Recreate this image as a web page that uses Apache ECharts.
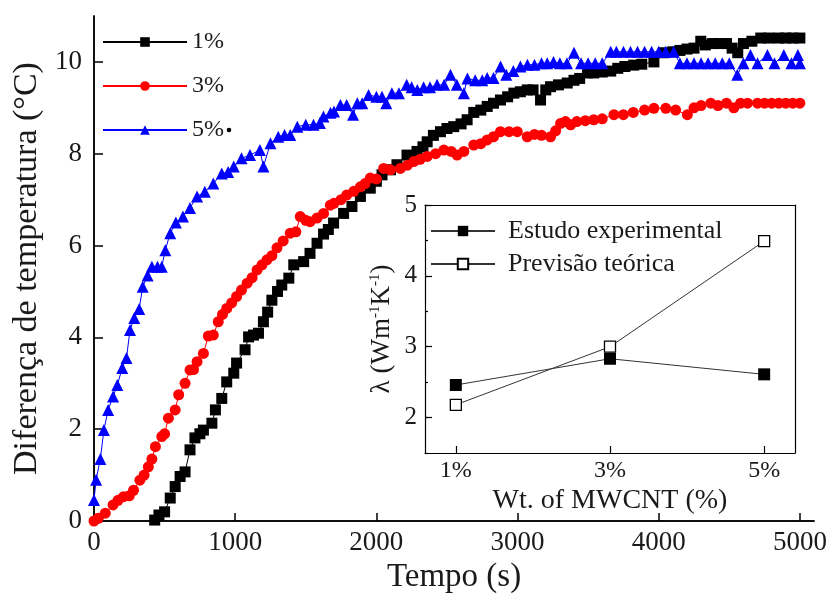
<!DOCTYPE html>
<html><head><meta charset="utf-8">
<script src="https://cdn.jsdelivr.net/npm/echarts@6/dist/echarts.min.js"></script>
<style>html,body{margin:0;padding:0;background:#fff}#c{width:832px;height:603px}</style>
</head><body><div id="c"></div>
<script>
// ---- Main chart data (Tempo in s, Diferença de temperatura in °C) ----
var t1 = [430,460,500,540,575,610,645,680,715,750,775,835,860,905,940,990,1010,1070,1095,1130,1165,1200,1230,1260,1300,1330,1380,1415,1485,1530,1580,1626,1660,1697,1768,1827,1887,1957,2000,2040,2100,2146,2217,2288,2330,2360,2404,2454,2500,2548,2600,2643,2690,2740,2785,2830,2879,2930,2974,3020,3069,3110,3163,3200,3234,3290,3352,3400,3440,3496,3540,3600,3660,3710,3760,3823,3880,3966,4035,4100,4150,4200,4250,4298,4330,4380,4430,4480,4520,4560,4600,4660,4723,4780,4850,4900,4950,5000];
var y1 = [0.02,0.13,0.2,0.5,0.75,0.97,1.07,1.55,1.81,1.9,1.98,2.13,2.42,2.67,3.03,3.22,3.44,3.73,4.01,4.05,4.09,4.34,4.55,4.81,5.0,5.14,5.29,5.58,5.65,5.83,6.05,6.25,6.35,6.49,6.7,6.85,7.07,7.25,7.4,7.54,7.65,7.76,7.97,8.05,8.15,8.26,8.4,8.48,8.55,8.59,8.65,8.74,8.9,8.95,9.03,9.1,9.17,9.24,9.32,9.35,9.39,9.39,9.17,9.39,9.46,9.5,9.54,9.6,9.64,9.76,9.76,9.78,9.8,9.86,9.9,9.93,9.95,10.0,10.2,10.22,10.25,10.28,10.3,10.45,10.37,10.4,10.4,10.4,10.3,10.2,10.4,10.45,10.52,10.52,10.52,10.52,10.52,10.52];

var t3 = [0,30,80,135,170,210,250,280,325,355,385,410,435,480,500,527,575,600,645,680,705,730,775,810,845,880,910,940,975,1010,1045,1085,1120,1155,1190,1225,1260,1296,1340,1390,1430,1461,1500,1530,1580,1626,1674,1700,1750,1790,1840,1887,1920,1957,2000,2052,2100,2170,2220,2265,2310,2360,2420,2478,2530,2572,2620,2690,2740,2785,2830,2879,2940,2998,3069,3120,3170,3234,3270,3305,3340,3376,3420,3480,3540,3600,3683,3750,3820,3900,3966,4050,4120,4203,4250,4300,4369,4420,4480,4532,4580,4629,4700,4750,4800,4850,4900,4950,5000];
var y3 = [0.0,0.06,0.17,0.35,0.45,0.53,0.55,0.67,0.89,1.0,1.18,1.35,1.62,1.84,1.9,2.24,2.42,2.75,3.0,3.29,3.3,3.47,3.65,4.03,4.05,4.34,4.5,4.63,4.75,4.89,5.03,5.18,5.3,5.47,5.58,5.69,5.78,5.95,6.1,6.27,6.3,6.63,6.55,6.52,6.6,6.7,6.88,6.92,7.0,7.1,7.18,7.28,7.35,7.47,7.45,7.68,7.65,7.68,7.75,7.83,7.88,7.94,8.0,8.08,8.05,7.97,8.05,8.19,8.22,8.3,8.37,8.48,8.48,8.48,8.37,8.42,8.4,8.37,8.5,8.66,8.7,8.63,8.7,8.72,8.74,8.76,8.85,8.85,8.9,8.95,8.99,8.99,8.95,8.85,9.0,9.05,9.1,9.05,9.1,9.0,9.1,9.1,9.1,9.1,9.1,9.1,9.1,9.1,9.1];

var t5 = [0,15,45,70,100,135,165,200,230,255,285,320,345,380,410,450,480,505,540,580,630,680,730,785,845,905,950,990,1045,1105,1175,1200,1250,1305,1350,1390,1440,1500,1555,1600,1625,1675,1700,1745,1790,1835,1865,1900,1945,2000,2040,2070,2110,2160,2215,2250,2290,2335,2380,2430,2480,2525,2570,2620,2645,2700,2750,2785,2830,2880,2920,2970,3020,3070,3120,3170,3210,3255,3300,3350,3400,3450,3500,3550,3600,3660,3700,3750,3800,3850,3900,3950,4000,4050,4106,4150,4200,4250,4300,4350,4400,4450,4500,4557,4600,4650,4700,4770,4820,4886,4940,4986,5000];
var y5 = [0.46,0.9,1.35,1.98,2.42,2.71,2.96,3.33,3.55,4.16,4.42,4.62,5.1,5.35,5.54,5.54,5.54,5.9,6.27,6.5,6.63,6.82,7.07,7.17,7.35,7.57,7.6,7.72,7.9,7.97,8.08,7.72,8.23,8.37,8.41,8.41,8.59,8.63,8.63,8.67,8.81,8.89,8.92,9.06,9.06,8.85,9.1,9.1,9.28,9.24,9.24,9.1,9.32,9.32,9.5,9.45,9.39,9.45,9.45,9.5,9.5,9.72,9.5,9.32,9.64,9.6,9.6,9.65,9.65,9.9,9.72,9.8,9.9,9.94,9.94,9.97,9.97,10.0,9.97,9.97,10.2,9.97,9.97,9.97,9.97,10.22,10.22,10.22,10.22,10.22,10.22,10.22,10.22,10.22,10.22,9.97,9.97,9.97,9.97,9.97,9.97,9.97,9.97,9.72,9.97,10.15,9.97,10.15,9.97,10.15,9.97,10.15,9.97];

var seriesNames = ['1%', '3%', '5%'];

// ---- Inset data (λ, W m-1 K-1) ----
var insetWt = [1, 3, 5];
var insetWtLabels = ['1%', '3%', '5%'];
var experimental = [2.46, 2.83, 2.61];
var theoretical = [2.18, 3.0, 4.49];
var insetNames = ['Estudo experimental', 'Previsão teórica'];

function pairs(xs, ys) {
  var out = [];
  for (var i = 0; i < Math.min(xs.length, ys.length); i++) out.push([xs[i], ys[i]]);
  return out;
}

var FONT = 'Liberation Serif';
var TXT = '#1a1a1a';

var chart = echarts.init(document.getElementById('c'), null, {renderer: 'canvas'});

var option = {
  backgroundColor: '#fff',
  animation: false,
  textStyle: {fontFamily: FONT, color: TXT},
  grid: [
    {left: 94, right: 18, top: 16, bottom: 82},
    {left: 425, top: 205, width: 370, height: 248}
  ],
  legend: [
    {
      data: seriesNames,
      orient: 'vertical', left: 97, top: 25,
      itemWidth: 84, itemHeight: 12, itemGap: 20,
      textStyle: {fontFamily: FONT, fontSize: 24, color: TXT, padding: [0, 0, 0, 0]}
    },
    {
      data: insetNames,
      orient: 'vertical', left: 425, top: 213,
      itemWidth: 64, itemHeight: 13, itemGap: 7,
      textStyle: {fontFamily: FONT, fontSize: 26, color: TXT, padding: [0, 0, 0, 8]}
    }
  ],
  xAxis: [
    {
      gridIndex: 0, type: 'value', min: 0, max: 5100, interval: 1000,
      name: 'Tempo (s)', nameLocation: 'middle', nameGap: 40,
      nameTextStyle: {fontFamily: FONT, fontSize: 33, color: TXT},
      axisLine: {lineStyle: {color: '#000', width: 1.5}},
      axisTick: {inside: true, length: 8, lineStyle: {color: '#000', width: 1.5}},
      axisLabel: {fontFamily: FONT, fontSize: 27, color: TXT, margin: 8, showMaxLabel: false,
        formatter: function (v) { return String(v); }},
      splitLine: {show: false}
    },
    {
      gridIndex: 0, type: 'value', position: 'top', min: 0, max: 5100,
      axisLine: {show: true, lineStyle: {color: '#000', width: 1.5}},
      axisTick: {show: false}, axisLabel: {show: false}, splitLine: {show: false}
    },
    {
      gridIndex: 1, type: 'value', min: 0.6, max: 5.4,
      name: 'Wt. of MWCNT (%)', nameLocation: 'middle', nameGap: 34,
      nameTextStyle: {fontFamily: FONT, fontSize: 28, color: TXT},
      axisLine: {lineStyle: {color: '#000', width: 1.2}},
      axisTick: {inside: true, length: 7, customValues: insetWt, lineStyle: {color: '#000', width: 1.2}},
      axisLabel: {
        fontFamily: FONT, fontSize: 24, color: TXT, margin: 6,
        customValues: insetWt,
        formatter: function (v) { var i = insetWt.indexOf(v); return i >= 0 ? insetWtLabels[i] : ''; }
      },
      splitLine: {show: false}
    },
    {
      gridIndex: 1, type: 'value', position: 'top', min: 0.6, max: 5.4,
      axisLine: {show: true, lineStyle: {color: '#000', width: 1.2}},
      axisTick: {show: false}, axisLabel: {show: false}, splitLine: {show: false}
    }
  ],
  yAxis: [
    {
      gridIndex: 0, type: 'value', min: 0, max: 11, interval: 2,
      name: 'Diferença de temperatura (°C)', nameLocation: 'middle', nameGap: 48,
      nameTextStyle: {fontFamily: FONT, fontSize: 34, color: TXT},
      axisLine: {lineStyle: {color: '#000', width: 1.5}},
      axisTick: {inside: true, length: 9, lineStyle: {color: '#000', width: 1.5}},
      axisLabel: {fontFamily: FONT, fontSize: 27, color: TXT, margin: 12, showMaxLabel: false},
      splitLine: {show: false}
    },
    {
      gridIndex: 0, type: 'value', position: 'right', min: 0, max: 11,
      axisLine: {show: true, lineStyle: {color: '#000', width: 1.5}},
      axisTick: {show: false}, axisLabel: {show: false}, splitLine: {show: false}
    },
    {
      gridIndex: 1, type: 'value', min: 1.5, max: 5,
      name: 'λ (Wm{s|-1}K{s|-1})', nameLocation: 'middle', nameGap: 30,
      nameTextStyle: {fontFamily: FONT, fontSize: 27, color: TXT,
        rich: {s: {fontFamily: FONT, fontSize: 15, color: TXT, verticalAlign: 'top'}}},
      axisLine: {lineStyle: {color: '#000', width: 1.2}},
      axisTick: {inside: true, length: 7, customValues: [2, 3, 4, 5], lineStyle: {color: '#000', width: 1.2}},
      axisLabel: {fontFamily: FONT, fontSize: 25, color: TXT, margin: 8, customValues: [2, 3, 4, 5]},
      splitLine: {show: false}
    },
    {
      gridIndex: 1, type: 'value', position: 'right', min: 1.5, max: 5,
      axisLine: {show: true, lineStyle: {color: '#000', width: 1.2}},
      axisTick: {show: false}, axisLabel: {show: false}, splitLine: {show: false}
    },
    {
      gridIndex: 1, type: 'value', position: 'left', min: 1.5, max: 5, interval: 0.5,
      axisLine: {show: false},
      axisTick: {inside: true, length: 3, lineStyle: {color: '#000', width: 1.2}},
      axisLabel: {show: false}, splitLine: {show: false}
    }
  ],
  series: [
    {
      name: seriesNames[0], type: 'line', xAxisIndex: 0, yAxisIndex: 0,
      data: pairs(t1, y1), symbol: 'rect', symbolSize: 11,
      lineStyle: {color: '#000', width: 1}, itemStyle: {color: '#000'}
    },
    {
      name: seriesNames[1], type: 'line', xAxisIndex: 0, yAxisIndex: 0,
      data: pairs(t3, y3), symbol: 'circle', symbolSize: 11,
      lineStyle: {color: '#ff0000', width: 1}, itemStyle: {color: '#ff0000'}
    },
    {
      name: seriesNames[2], type: 'line', xAxisIndex: 0, yAxisIndex: 0,
      data: pairs(t5, y5), symbol: 'triangle', symbolSize: 12,
      lineStyle: {color: '#0000ff', width: 1}, itemStyle: {color: '#0000ff'}
    },
    {
      name: insetNames[0], type: 'line', xAxisIndex: 2, yAxisIndex: 2,
      data: pairs(insetWt, experimental), symbol: 'rect', symbolSize: 12,
      lineStyle: {color: '#333', width: 1}, itemStyle: {color: '#000'}
    },
    {
      name: insetNames[1], type: 'line', xAxisIndex: 2, yAxisIndex: 2,
      data: pairs(insetWt, theoretical), symbol: 'rect', symbolSize: 11,
      lineStyle: {color: '#333', width: 1},
      itemStyle: {color: '#fff', borderColor: '#000', borderWidth: 1.3}
    }
  ],
  graphic: [
    {type: 'circle', shape: {cx: 229, cy: 130, r: 2.3}, style: {fill: '#000'}}
  ]
};
chart.setOption(option);
</script></body></html>
